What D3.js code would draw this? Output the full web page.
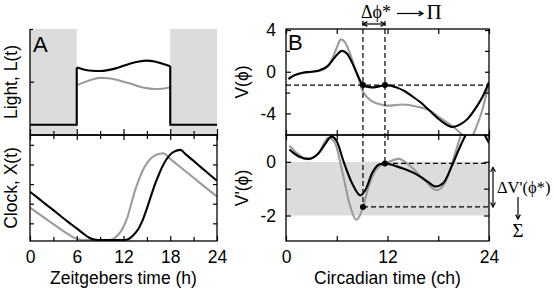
<!DOCTYPE html>
<html><head><meta charset="utf-8">
<script src="https://cdn.jsdelivr.net/npm/d3@7"></script>
<style>html,body{margin:0;padding:0;background:#fff}svg{display:block}</style>
</head><body><svg id="c" width="554" height="291"></svg>
<script>
// ---------- data ----------
const darkIntervals = [[0, 6], [18, 24]];
const lightHours = [6, 7, 8, 9, 10, 11, 12, 13, 14, 15, 16, 17, 18];
const lightBlack = [1.33, 1.28, 1.255, 1.25, 1.27, 1.31, 1.37, 1.43, 1.47, 1.49, 1.47, 1.42, 1.36];
const lightGray  = [0.92, 0.99, 1.05, 1.09, 1.08, 1.05, 1.0, 0.95, 0.89, 0.85, 0.83, 0.835, 0.87];

const clockHoursBlack = [0, 1, 2, 3, 4, 5, 6, 7, 7.5, 8, 8.5, 9, 12, 12.5, 13, 13.5, 14, 14.5, 15, 15.5, 16, 16.5, 17, 17.5, 18, 18.5, 19.3, 20, 21, 22, 23, 24];
const clockBlack = [2.61, 2.30, 1.98, 1.67, 1.35, 1.04, 0.74, 0.43, 0.29, 0.2, 0.16, 0.15, 0.15, 0.18, 0.3, 0.5, 0.78, 1.2, 1.75, 2.36, 2.95, 3.45, 3.9, 4.25, 4.5, 4.65, 4.74, 4.51, 4.18, 3.84, 3.5, 3.17];
const clockHoursGray = [0, 1, 2, 3, 4, 5, 5.5, 6, 6.5, 7, 10, 10.5, 11, 11.5, 12, 12.5, 13, 13.5, 14, 14.5, 15, 15.5, 16, 16.5, 17.1, 18, 19, 20, 21, 22, 23, 24];
const clockGray = [1.80, 1.52, 1.24, 0.96, 0.68, 0.42, 0.3, 0.21, 0.16, 0.15, 0.15, 0.18, 0.3, 0.5, 0.83, 1.3, 2.0, 2.7, 3.25, 3.72, 4.05, 4.3, 4.45, 4.53, 4.57, 4.28, 3.96, 3.64, 3.32, 3.0, 2.68, 2.36];

const phaseBlackV = [0.3, 1, 2, 3, 4, 5, 5.5, 6, 6.6, 7.2, 7.8, 8.4, 9.1, 9.7, 10.4, 11.1, 11.7, 12.4, 13.2, 14, 15, 16, 17, 18, 19, 19.6, 20.5, 21.5, 22.5, 23.3, 24];
const blackV = [-0.7, -0.35, -0.1, 0.0, 0.15, 0.6, 1.1, 1.6, 2.0, 1.75, 0.9, -0.2, -1.28, -1.45, -1.5, -1.38, -1.28, -1.33, -1.55, -1.85, -2.4, -3.0, -3.75, -4.5, -5.1, -5.3, -5.1, -4.5, -3.4, -2.3, -1.0];
const phaseGrayV = [0.3, 1, 2, 3, 4, 5, 5.5, 6, 6.5, 7, 7.5, 8, 8.5, 9.1, 9.6, 10.3, 11, 12, 13.8, 15.5, 16.9, 18, 19, 19.75, 20.9, 21.5, 22, 22.6, 23.2, 24];
const grayV = [-0.6, -0.3, -0.1, 0.0, 0.1, 0.6, 1.3, 2.3, 3.1, 2.8, 1.9, 0.7, -0.5, -1.9, -2.45, -2.9, -3.1, -3.25, -3.15, -3.35, -3.68, -4.3, -4.85, -5.27, -6.07, -6.4, -6.2, -5.1, -3.7, -1.0];

const phaseBlackVp = [0.4, 0.8, 1.5, 2.7, 3.9, 4.7, 5.35, 6.0, 6.8, 7.8, 8.8, 9.4, 10.2, 11.0, 11.7, 13.0, 14.0, 15.1, 16.0, 16.7, 17.7, 18.6, 19.6, 20.6, 21.4, 22.5, 23.4, 24];
const blackVp = [0.46, 0.35, 0.2, 0.11, 0.34, 0.7, 0.94, 0.77, 0.02, -0.79, -1.25, -1.04, -0.41, -0.1, -0.06, -0.16, -0.27, -0.41, -0.58, -0.73, -0.92, -0.79, -0.16, 0.58, 1.09, 1.5, 1.05, 0.7];
const phaseGrayVp = [0.4, 1.2, 2.5, 3.8, 5.0, 5.8, 6.6, 7.6, 8.3, 8.8, 9.1, 9.9, 10.9, 12.3, 13.3, 14.7, 16.3, 17.8, 18.8, 19.8, 20.8, 22.0, 23.2, 24];
const grayVp = [0.6, 0.35, 0.1, 0.3, 0.9, 0.7, -0.29, -1.66, -2.16, -1.95, -1.68, -0.79, -0.2, 0.02, 0.11, -0.16, -0.66, -1.06, -0.79, 0.11, 1.1, 1.7, 1.4, 0.9];

const phiStar = [9.1, 11.7];
const vStar = -1.28;
const vpStar = [-1.68, -0.06];
const vpBand = [-2, 0];

const hourMajor = [0, 6, 12, 18, 24];
const hourMinor = [3, 9, 15, 21];
const hourLabels = [0, 6, 12, 18, 24];
const chTicks = [0, 6, 12, 18, 24];
const chLabels = [0, 12, 24];
const lightTicks = [1];
const clockTicks = [1, 2, 3, 4, 5];
const vMajor = [-4, 0, 4];
const vMinor = [-2, 2];
const vpTicks = [-2, -1, 0];
const vpLabels = [0, -2];

// ---------- scales ----------
const svg = d3.select("#c");
const xA = d3.scaleLinear().domain([0, 24]).range([30, 217]);
const yL = d3.scaleLinear().domain([-0.24, 2.226]).range([135, 29]);
const yX = d3.scaleLinear().domain([0.1, 5.5]).range([241, 135]);
const xB = d3.scaleLinear().domain([0, 24]).range([286, 489]);
const yV = d3.scaleLinear().domain([-6.07, 4.1]).range([135, 29]);
const yVp = d3.scaleLinear().domain([-2.95, 1.0]).range([241, 135]);

const SANS = "'Liberation Sans', Arial, Helvetica, sans-serif";
const SERIF = "'Liberation Serif', 'Times New Roman', serif";
const GRAY = "#9b9b9b";
const FILL = "#dcdcdc";

const defs = svg.append("defs");
function clip(id, x0, y0, x1, y1) {
  defs.append("clipPath").attr("id", id).append("rect")
    .attr("x", x0).attr("y", y0).attr("width", x1 - x0).attr("height", y1 - y0);
}
clip("cA1", xA(0), yL.range()[1], xA(24), yL.range()[0]);
clip("cA2", xA(0), yX.range()[1], xA(24), yX.range()[0]);
clip("cB1", xB(0), yV.range()[1], xB(24), yV.range()[0]);
clip("cB2", xB(0), yVp.range()[1], xB(24), yVp.range()[0]);

function curve(xs, ys, sx, sy, color, clipId, curveType) {
  const pts = xs.map((x, i) => [x, ys[i]]);
  const line = d3.line().x(d => sx(d[0])).y(d => sy(d[1])).curve(curveType || d3.curveMonotoneX);
  svg.append("path").attr("d", line(pts)).attr("fill", "none").attr("stroke", color)
    .attr("stroke-width", 2.1).attr("stroke-linejoin", "round").attr("clip-path", `url(#${clipId})`);
}

// ---------- Panel A backgrounds ----------
darkIntervals.forEach(([a, b]) => {
  svg.append("rect").attr("x", xA(a)).attr("y", yL.range()[1])
    .attr("width", xA(b) - xA(a)).attr("height", yL.range()[0] - yL.range()[1]).attr("fill", FILL);
});

// light curves
curve(lightHours, lightGray, xA, yL, GRAY, "cA1");
{
  const stepX = [0, lightHours[0], ...lightHours, lightHours[lightHours.length - 1], 24];
  const stepY = [0, 0, ...lightBlack, 0, 0];
  const pts = stepX.map((x, i) => [x, stepY[i]]);
  // piecewise: straight steps + smooth middle
  const lineStraight = d3.line().x(d => xA(d[0])).y(d => yL(d[1]));
  const lineSmooth = d3.line().x(d => xA(d[0])).y(d => yL(d[1])).curve(d3.curveMonotoneX);
  const n = pts.length;
  const d1 = lineStraight(pts.slice(0, 3));
  const d2 = lineSmooth(pts.slice(2, n - 2));
  const d3p = lineStraight(pts.slice(n - 3));
  [d1, d2, d3p].forEach(d => svg.append("path").attr("d", d).attr("fill", "none")
    .attr("stroke", "#000").attr("stroke-width", 2.1).attr("stroke-linejoin", "miter").attr("clip-path", "url(#cA1)"));
}

// clock curves
curve(clockHoursGray, clockGray, xA, yX, GRAY, "cA2");
curve(clockHoursBlack, clockBlack, xA, yX, "#000", "cA2");

// ---------- Panel B ----------
svg.append("rect").attr("x", xB(0)).attr("y", yVp(vpBand[1]))
  .attr("width", xB(24) - xB(0)).attr("height", yVp(vpBand[0]) - yVp(vpBand[1])).attr("fill", FILL);

curve(phaseGrayV, grayV, xB, yV, GRAY, "cB1");
curve(phaseBlackV, blackV, xB, yV, "#000", "cB1");
curve(phaseGrayVp, grayVp, xB, yVp, GRAY, "cB2");
curve(phaseBlackVp, blackVp, xB, yVp, "#000", "cB2");

// dashed guides
const dash = { "stroke": "#000", "stroke-width": 1.2, "stroke-dasharray": "5,3", "fill": "none" };
function dline(x1, y1, x2, y2) {
  const l = svg.append("line").attr("x1", x1).attr("y1", y1).attr("x2", x2).attr("y2", y2);
  Object.entries(dash).forEach(([k, v]) => l.attr(k, v));
}
dline(xB(0), yV(vStar), xB(24), yV(vStar));
phiStar.forEach((p, i) => {
  dline(xB(p), 21, xB(p), yVp(vpStar[i]));
  dline(xB(p), yVp(vpStar[i]), xB(24), yVp(vpStar[i]));
});

// ---------- frames and ticks ----------
const ax = { stroke: "#000", "stroke-width": 1.3 };
function sline(x1, y1, x2, y2, w) {
  svg.append("line").attr("x1", x1).attr("y1", y1).attr("x2", x2).attr("y2", y2)
    .attr("stroke", "#000").attr("stroke-width", w || 1.3);
}
function frame(x0, y0, x1, y1) {
  svg.append("rect").attr("x", x0).attr("y", y0).attr("width", x1 - x0).attr("height", y1 - y0)
    .attr("fill", "none").attr("stroke", "#000").attr("stroke-width", 1.3);
}
function axis(gen, scale, values, size, tx, ty, labels, pad) {
  const a = d3[gen](scale).tickValues(values).tickSize(size).tickPadding(pad || 8)
    .tickFormat(d => (labels && labels.includes(d)) ? String(d).replace("-", "-") : "");
  const g = svg.append("g").attr("transform", `translate(${tx},${ty})`).call(a);
  g.select(".domain").remove();
  g.selectAll("line").attr("stroke", "#000").attr("stroke-width", 1.2);
  g.selectAll("text").attr("font-family", SANS).attr("font-size", 17.5).attr("fill", "#000");
  return g;
}

// Panel A top: left axis + bottom divider
sline(xA(0), yL.range()[1], xA(0), yL.range()[0]);
sline(xA(0), yL.range()[0], xA(24), yL.range()[0]);
axis("axisLeft", yL, lightTicks, -4, xA(0), 0);
axis("axisLeft", yL, [yL.domain()[1]], -3, xA(0), 0);
axis("axisBottom", xA, hourMajor, -6, 0, yL.range()[0]);
axis("axisBottom", xA, hourMinor, -4, 0, yL.range()[0]);
// Panel A bottom
frame(xA(0), yX.range()[1], xA(24), yX.range()[0]);
axis("axisLeft", yX, clockTicks, -4, xA(0), 0);
axis("axisRight", yX, clockTicks, -4, xA(24), 0);
axis("axisTop", xA, hourMajor, -5, 0, yX.range()[1]);
axis("axisTop", xA, hourMinor, -4, 0, yX.range()[1]);
axis("axisBottom", xA, hourMajor, -5, 0, yX.range()[0], hourLabels, 9.5);
axis("axisBottom", xA, hourMinor, -4, 0, yX.range()[0]);

// Panel B top
frame(xB(0), yV.range()[1], xB(24), yV.range()[0]);
axis("axisLeft", yV, vMajor, -5, xB(0), 0, vMajor, 10);
axis("axisLeft", yV, vMinor, -4, xB(0), 0);
axis("axisRight", yV, vMajor.concat(vMinor), -4, xB(24), 0);
axis("axisTop", xB, chTicks, -5, 0, yV.range()[1]);
axis("axisBottom", xB, chTicks, -5, 0, yV.range()[0]);
// Panel B bottom
frame(xB(0), yVp.range()[1], xB(24), yVp.range()[0]);
axis("axisLeft", yVp, vpTicks, -5, xB(0), 0, vpLabels, 10);
axis("axisRight", yVp, vpTicks, -5, xB(24), 0);
axis("axisTop", xB, chTicks, -5, 0, yVp.range()[1]);
axis("axisBottom", xB, chTicks, -5, 0, yVp.range()[0], chLabels, 9.5);

// dots
phiStar.forEach((p, i) => {
  svg.append("circle").attr("cx", xB(p)).attr("cy", yV(vStar)).attr("r", 3).attr("fill", "#000");
  svg.append("circle").attr("cx", xB(p)).attr("cy", yVp(vpStar[i])).attr("r", 3).attr("fill", "#000");
});

// ---------- text ----------
function txt(s, x, y, size, family, anchor, rot) {
  const t = svg.append("text").attr("x", x).attr("y", y).attr("font-size", size)
    .attr("font-family", family).attr("text-anchor", anchor || "start").attr("fill", "#000").text(s);
  if (rot) t.attr("transform", `rotate(${rot},${x},${y})`);
  return t;
}
txt("A", 33, 52, 22, SANS);
txt("B", 288, 50, 22, SANS);
txt("Light, L(t)", 17, (yL.range()[0] + yL.range()[1]) / 2, 17.5, SANS, "middle", -90);
txt("Clock, X(t)", 17, (yX.range()[0] + yX.range()[1]) / 2, 17.5, SANS, "middle", -90);
txt("V(\u03d5)", 248, (yV.range()[0] + yV.range()[1]) / 2, 17.5, SANS, "middle", -90);
txt("V'(\u03d5)", 248, (yVp.range()[0] + yVp.range()[1]) / 2, 17.5, SANS, "middle", -90);
txt("Zeitgebers time (h)", (xA(0) + xA(24)) / 2, 284, 17.5, SANS, "middle");
txt("Circadian time (ch)", (xB(0) + xB(24)) / 2, 284, 17.5, SANS, "middle");

// annotations
function arrowLine(x1, y1, x2, y2, heads) {
  sline(x1, y1, x2, y2, 1.2);
  const head = (tx, ty, fx, fy) => {
    const a = Math.atan2(ty - fy, tx - fx), L = 5, s = 0.5;
    const p = `M${tx - L * Math.cos(a - s)},${ty - L * Math.sin(a - s)}L${tx},${ty}L${tx - L * Math.cos(a + s)},${ty - L * Math.sin(a + s)}`;
    svg.append("path").attr("d", p).attr("fill", "none").attr("stroke", "#000").attr("stroke-width", 1.2);
  };
  if (heads.includes("end")) head(x2, y2, x1, y1);
  if (heads.includes("start")) head(x1, y1, x2, y2);
}
arrowLine(xB(phiStar[0]), 24, xB(phiStar[1]), 24, ["start", "end"]);
txt("\u0394\u03d5*", 361, 18, 18, SERIF);
arrowLine(397, 13.5, 423, 13.5, ["end"]);
txt("\u03a0", 434, 18.5, 21, SERIF, "middle");

arrowLine(493, yVp(vpStar[1]) + 4, 493, yVp(vpStar[0]), ["start", "end"]);
txt("\u0394V'(\u03d5*)", 497, 193, 16.5, SERIF);
arrowLine(518, 197, 518, 219, ["end"]);
txt("\u03a3", 518, 237, 19, SERIF, "middle");
</script></body></html>
